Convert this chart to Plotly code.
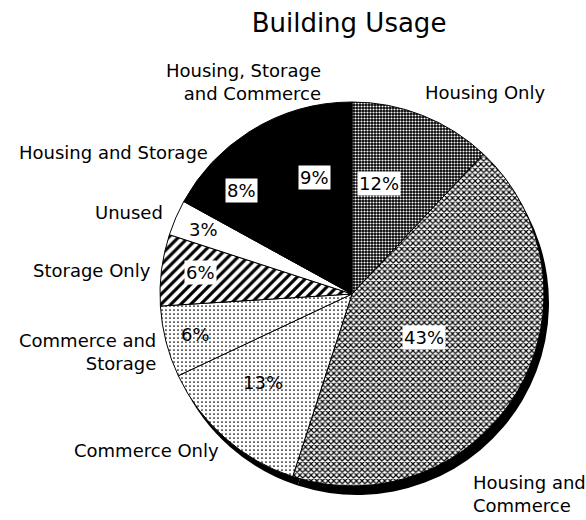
import math
import plotly.graph_objs as go

# building usage shares, clockwise from 12 o'clock
usage = ["Housing Only", "Housing and Commerce", "Commerce Only", "Commerce and Storage",
         "Storage Only", "Unused", "Housing and Storage", "Housing, Storage and Commerce"]
share = [12, 43, 13, 6, 6, 3, 8, 9]

# outside label text (with line breaks) and whether the percent sits in a white box
label_text = ["Housing Only", "Housing and<br>Commerce", "Commerce Only", "Commerce and<br>Storage",
              "Storage Only", "Unused", "Housing and Storage", "Housing, Storage<br>and Commerce"]
boxed = [True, True, False, False, True, False, True, True]

W, H = 586, 520
CX, CY, R = 352, 294, 192
FONT = "DejaVu Sans"

# fill patterns for the slices
pat_shape = [".", "x", ".", ".", "/", "", "", ""]
pat_fg = ["white", "black", "black", "black", "black", "white", "black", "black"]
pat_bg = ["black", "white", "white", "white", "white", "white", "black", "black"]
pat_size = [3, 4, 4, 4, 7, 4, 4, 4]
pat_solid = [0.4, 0.5, 0.15, 0.15, 0.45, 0.1, 0.1, 0.1]

# where the percent sits along the radius, per slice
pct_radius = [0.69, 0.57, 0.70, 0.84, 0.88, 0.84, 0.79, 0.70]

# outside labels: pixel position, anchor
label_pos = [(485, 92, "center"), (471, 494, "left"), (146, 450, "center"), (158, 352, "right"),
             (153, 270, "right"), (165, 212, "right"), (210, 152, "right"), (323, 82, "right")]


def px(x, y):
    return x / W, 1 - y / H


dom_x = [(CX - R) / W, (CX + R) / W]
dom_y = [1 - (CY + R) / H, 1 - (CY - R) / H]

# drop shadow: same pie, all black, shifted down-right
sdx, sdy = 5, 9
shadow = go.Pie(values=share, sort=False, direction="clockwise", textinfo="none", hoverinfo="skip",
                marker=dict(colors=["black"] * len(share), line=dict(width=0)),
                domain=dict(x=[dom_x[0] + sdx / W, dom_x[1] + sdx / W], y=[dom_y[0] - sdy / H, dom_y[1] - sdy / H]),
                showlegend=False)

pie = go.Pie(labels=usage, values=share, sort=False, direction="clockwise", textinfo="none",
             marker=dict(colors=pat_bg, line=dict(color="black", width=1),
                         pattern=dict(shape=pat_shape, fgcolor=pat_fg, bgcolor=pat_bg,
                                      size=pat_size, solidity=pat_solid, fillmode="replace")),
             domain=dict(x=dom_x, y=dom_y), showlegend=False)

annotations = []

# percent labels placed at the middle angle of each slice
total = float(sum(share))
cum = 0
for i, v in enumerate(share):
    mid = (cum + v / 2.0) / total * 2 * math.pi
    cum += v
    r = R * pct_radius[i]
    x, y = px(CX + r * math.sin(mid), CY - r * math.cos(mid))
    annotations.append(dict(x=x, y=y, xref="paper", yref="paper", text="%d%%" % round(v / total * 100),
                            showarrow=False, font=dict(family=FONT, size=18, color="black"),
                            bgcolor="white" if boxed[i] else "rgba(0,0,0,0)", borderpad=1))

# category labels around the pie
for t, (lx, ly, anchor) in zip(label_text, label_pos):
    x, y = px(lx, ly)
    annotations.append(dict(x=x, y=y, xref="paper", yref="paper", text=t, showarrow=False,
                            xanchor=anchor, yanchor="middle", align=anchor,
                            font=dict(family=FONT, size=18, color="black")))

layout = go.Layout(
    width=W, height=H,
    margin=dict(l=0, r=0, t=0, b=0),
    paper_bgcolor="white", plot_bgcolor="white",
    title=dict(text="Building Usage", x=349 / W, y=1 - 23 / H, xanchor="center", yanchor="middle",
               font=dict(family=FONT, size=26, color="black")),
    annotations=annotations,
)

fig = go.Figure(data=[shadow, pie], layout=layout)
# drop the page's default body margin so the figure sits at the window corner
fig.write_html("out.html", config={"displayModeBar": False},
               post_script="document.body.style.margin='0';")
